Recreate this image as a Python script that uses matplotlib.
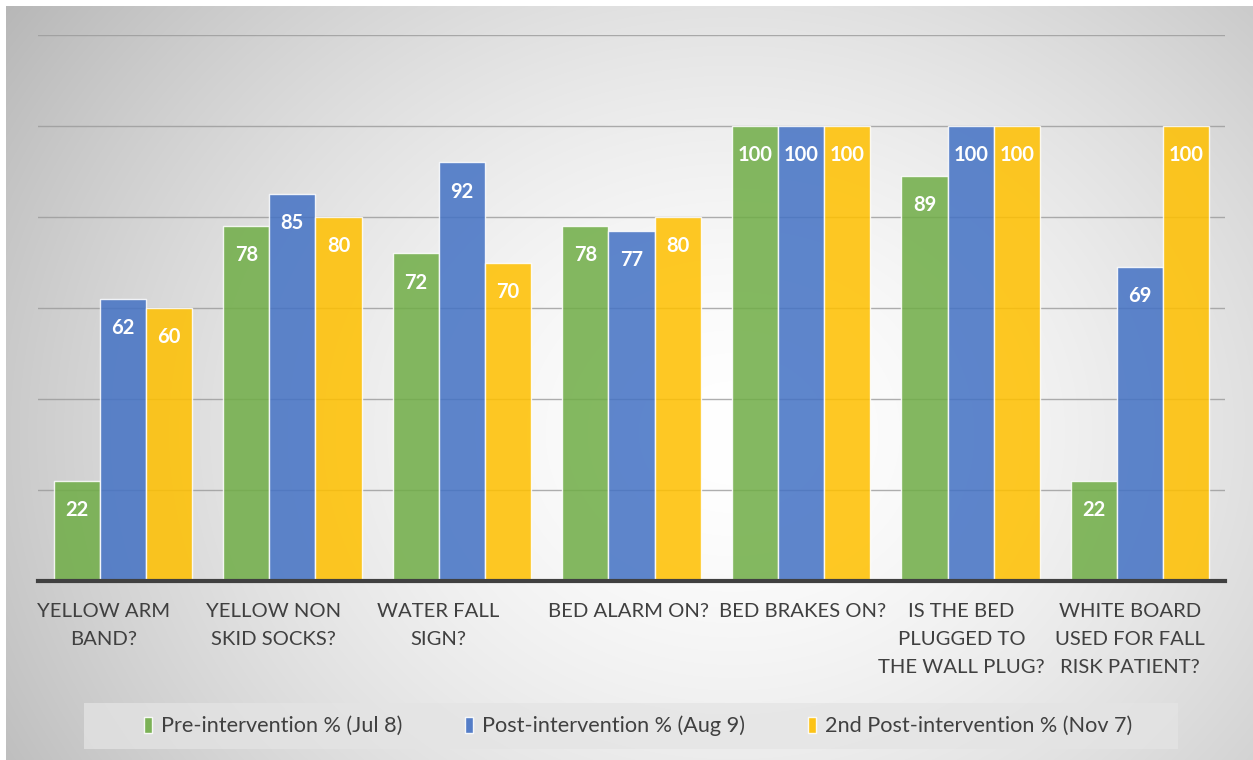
import numpy as np
import matplotlib
matplotlib.use("Agg")
import matplotlib.pyplot as plt
import matplotlib.transforms as mtransforms
from matplotlib.patches import Rectangle, Patch

plt.rcParams['font.family'] = ['Lato', 'DejaVu Sans']

categories = [
    "YELLOW ARM\nBAND?",
    "YELLOW NON\nSKID SOCKS?",
    "WATER FALL\nSIGN?",
    "BED ALARM ON?",
    "BED BRAKES ON?",
    "IS THE BED\nPLUGGED TO\nTHE WALL PLUG?",
    "WHITE BOARD\nUSED FOR FALL\nRISK PATIENT?",
]
series_names = [
    "Pre-intervention % (Jul 8)",
    "Post-intervention % (Aug 9)",
    "2nd Post-intervention % (Nov 7)",
]
pre_values = [22, 78, 72, 78, 100, 89, 22]
post_values = [62, 85, 92, 77, 100, 100, 69]
second_post_values = [60, 80, 70, 80, 100, 100, 100]
series_colors = ["#70AD47", "#4472C4", "#FFC000"]

W, H = 1253, 760
fig = plt.figure(figsize=(W / 100, H / 100), dpi=100)
fig.patch.set_facecolor("white")

# radial grey-to-white backdrop
bg = fig.add_axes([6 / W, 0, 1 - 6 / W, 1 - 6 / H])
bg.set_axis_off()
yy, xx = np.mgrid[0:H, 0:W]
cx, cy = 730, 430
d = np.sqrt((xx - cx) ** 2 + ((yy - cy) / 0.85) ** 2)
val = 255 - 62 * np.clip(d / 810, 0, 1.3) ** 1.6
val = np.clip(val, 150, 255) / 255.0
bg.imshow(np.dstack([val, val, val]), extent=[0, 1, 0, 1], aspect="auto",
          origin="upper", interpolation="bilinear")

ax = fig.add_axes([38 / W, 179 / H, (1225 - 38) / W, 546 / H])
ax.patch.set_alpha(0)
ax.set_xlim(-0.5, len(categories) - 0.5)
ax.set_ylim(0, 120)

for y in range(20, 121, 20):
    ax.axhline(y, color="#9a9a9a", lw=1.0, alpha=0.8, zorder=1)

x = np.arange(len(categories))
bw = 0.272
all_series = [pre_values, post_values, second_post_values]
for i, (vals, col) in enumerate(zip(all_series, series_colors)):
    pos = x + (i - 1) * bw
    bars = ax.bar(pos, vals, width=bw, color=col, alpha=0.86,
                  edgecolor=(1, 1, 1, 0.55), linewidth=1.0, zorder=2)
    for b, v in zip(bars, vals):
        ax.annotate(f"{v}", (b.get_x() + b.get_width() / 2, v),
                    xytext=(0, -21), textcoords="offset points",
                    ha="center", va="center", color="white",
                    fontsize=14.5, fontweight="bold", zorder=4)

ax.axhline(0, color="#404040", lw=3, zorder=3, clip_on=False)

for s in ax.spines.values():
    s.set_visible(False)
ax.set_yticks([])
ax.set_xticks(x)
ax.set_xticklabels(categories, fontsize=14.6, color="#404040", linespacing=1.78)
ax.tick_params(axis="x", length=0, pad=16)

# wrapped labels sit slightly left of their category centre
label_shift_px = [-19, -19, -24, -3, 1, -9, -10]
for lbl, dx in zip(ax.get_xticklabels(), label_shift_px):
    lbl.set_transform(lbl.get_transform() +
                      mtransforms.ScaledTranslation(dx / 100, 0, fig.dpi_scale_trans))

# legend band
fig.patches.append(Rectangle((84 / W, (H - 749) / H), (1178 - 84) / W, 46 / H,
                             transform=fig.transFigure, facecolor="#e4e4e4",
                             alpha=0.75, edgecolor="none", zorder=1))
handles = [Patch(facecolor=c, edgecolor=(1, 1, 1, 0.6), alpha=0.9) for c in series_colors]
leg = fig.legend(handles, series_names, loc="center", ncol=3,
                 bbox_to_anchor=(638 / W, (H - 726) / H), frameon=False,
                 fontsize=15.6, handlelength=0.38, handleheight=0.75,
                 handletextpad=0.4, columnspacing=2.9)
for t in leg.get_texts():
    t.set_color("#404040")

fig.savefig("out.png", dpi=100, facecolor=fig.get_facecolor())
